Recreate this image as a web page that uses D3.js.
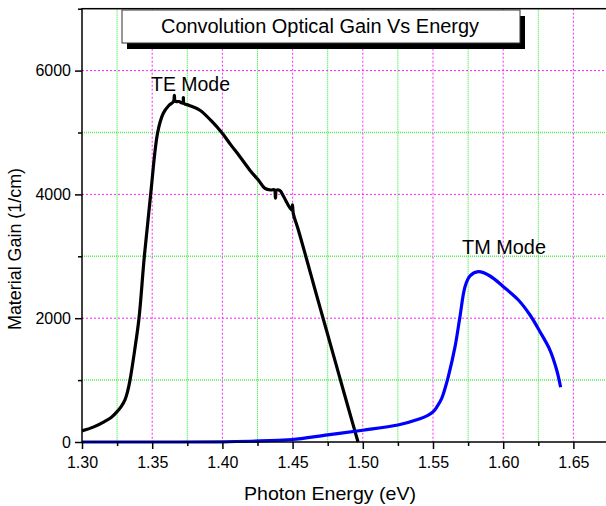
<!DOCTYPE html>
<html>
<head>
<meta charset="utf-8">
<script src="https://cdn.jsdelivr.net/npm/d3@7"></script>
<style>
  body { margin: 0; background: #fff; }
  svg { display: block; font-family: "Liberation Sans", Arial, sans-serif; }
</style>
</head>
<body>
<div id="chart"></div>
<script>
// photon energy (eV) vs material gain (1/cm)
const teEnergy = [1.300, 1.308, 1.316, 1.321, 1.325, 1.328, 1.3306, 1.3325, 1.3342, 1.3375, 1.3406, 1.3444, 1.3489, 1.3539, 1.3579, 1.3620, 1.3652, 1.3658, 1.3664, 1.3690, 1.3718, 1.3722, 1.3727, 1.3760, 1.3840, 1.3920, 1.3995, 1.4060, 1.4125, 1.4200, 1.4256, 1.4303, 1.4345, 1.4370, 1.4378, 1.4386, 1.4410, 1.4434, 1.4493, 1.4499, 1.4505, 1.4541, 1.4594, 1.4655, 1.4717, 1.4779, 1.4841, 1.4903, 1.4966];
const teGain   = [180, 240, 330, 400, 490, 575, 680, 820, 1000, 1480, 2000, 3000, 4000, 5000, 5310, 5440, 5500, 5600, 5505, 5500, 5475, 5565, 5470, 5440, 5360, 5190, 5000, 4800, 4609, 4380, 4233, 4098, 4071, 4075, 3940, 4070, 4060, 3974, 3748, 3830, 3690, 3425, 3000, 2500, 2000, 1500, 1000, 500, 0];

const tmEnergy = [1.300, 1.350, 1.400, 1.420, 1.440, 1.450, 1.475, 1.500, 1.525, 1.5407, 1.5460, 1.5502, 1.5530, 1.5562, 1.5585, 1.5609, 1.5657, 1.5692, 1.5728, 1.5764, 1.5823, 1.5906, 1.6001, 1.6108, 1.6191, 1.6262, 1.6333, 1.6381, 1.6409];
const tmGain   = [0, 0, 3, 12, 28, 40, 115, 190, 275, 375, 425, 490, 575, 705, 860, 1055, 1540, 2024, 2509, 2682, 2751, 2682, 2509, 2294, 2052, 1782, 1486, 1163, 884];

const xMajor = [1.30, 1.35, 1.40, 1.45, 1.50, 1.55, 1.60, 1.65];
const xMinor = [1.325, 1.375, 1.425, 1.475, 1.525, 1.575, 1.625, 1.675];
const yMajor = [0, 2000, 4000, 6000];
const yMinor = [1000, 3000, 5000, 7000];

const title = "Convolution Optical Gain Vs Energy";
const xTitle = "Photon Energy (eV)";
const yTitle = "Material Gain (1/cm)";

const width = 606, height = 506;
const svg = d3.select("#chart").append("svg")
  .attr("width", width)
  .attr("height", height);

const x = d3.scaleLinear().domain([1.30, 1.70]).range([82, 643.6]);
const y = d3.scaleLinear().domain([0, 7000]).range([442, 8.7]);

// grid: green at minor ticks, magenta at major ticks
const grid = svg.append("g").attr("class", "grid");
grid.selectAll(".gx-minor").data(xMinor).join("line")
  .attr("x1", d => x(d)).attr("x2", d => x(d))
  .attr("y1", y(7000)).attr("y2", y(0))
  .attr("stroke", "#22e822").attr("stroke-width", 1)
  .attr("stroke-dasharray", "1,1");
grid.selectAll(".gy-minor").data(yMinor.filter(d => d < 7000)).join("line")
  .attr("x1", x(1.30)).attr("x2", width)
  .attr("y1", d => y(d)).attr("y2", d => y(d))
  .attr("stroke", "#55ee55").attr("stroke-width", 1.5)
  .attr("stroke-dasharray", "1,1");
grid.selectAll(".gx-major").data(xMajor.slice(1)).join("line")
  .attr("x1", d => x(d)).attr("x2", d => x(d))
  .attr("y1", y(7000)).attr("y2", y(0))
  .attr("stroke", "#ff22ff").attr("stroke-width", 1)
  .attr("stroke-dasharray", "2,2");
grid.selectAll(".gy-major").data(yMajor.slice(1)).join("line")
  .attr("x1", x(1.30)).attr("x2", width)
  .attr("y1", d => y(d)).attr("y2", d => y(d))
  .attr("stroke", "#ff22ff").attr("stroke-width", 1)
  .attr("stroke-dasharray", "2,2");

// curves
const line = d3.line()
  .x(d => x(d[0]))
  .y(d => y(d[1]))
  .curve(d3.curveCatmullRom.alpha(0.5));

svg.append("path")
  .datum(teEnergy.map((e, i) => [e, teGain[i]]))
  .attr("fill", "none")
  .attr("stroke", "#000")
  .attr("stroke-width", 3.2)
  .attr("stroke-linejoin", "round")
  .attr("d", line);

svg.append("path")
  .datum(tmEnergy.map((e, i) => [e, tmGain[i]]))
  .attr("fill", "none")
  .attr("stroke", "#0000ff")
  .attr("stroke-width", 3.2)
  .attr("stroke-linejoin", "round")
  .attr("d", line);

// frame
svg.append("rect")
  .attr("x", x(1.30)).attr("y", y(7000))
  .attr("width", x(1.70) - x(1.30)).attr("height", y(0) - y(7000))
  .attr("fill", "none").attr("stroke", "#000").attr("stroke-width", 1.5);

// axes
const axisStyle = g => {
  g.select(".domain").remove();
  g.selectAll(".tick line").attr("stroke", "#000").attr("stroke-width", 1.5);
  g.selectAll("text").attr("fill", "#000").attr("font-size", 16)
    .attr("font-family", "'Liberation Sans', Arial, sans-serif");
};

svg.append("g")
  .attr("transform", `translate(0,${y(0)})`)
  .call(d3.axisBottom(x).tickValues(xMajor).tickFormat(d3.format(".2f")).tickSize(7).tickPadding(8))
  .call(axisStyle);
svg.append("g")
  .attr("transform", `translate(0,${y(0)})`)
  .call(d3.axisBottom(x).tickValues(xMinor).tickFormat("").tickSize(4))
  .call(axisStyle);

svg.append("g")
  .attr("transform", `translate(${x(1.30)},0)`)
  .call(d3.axisLeft(y).tickValues(yMajor).tickFormat(d3.format("d")).tickSize(7).tickPadding(4))
  .call(axisStyle);
svg.append("g")
  .attr("transform", `translate(${x(1.30)},0)`)
  .call(d3.axisLeft(y).tickValues(yMinor).tickFormat("").tickSize(4))
  .call(axisStyle);

// axis titles
svg.append("text")
  .attr("x", 330).attr("y", 500)
  .attr("text-anchor", "middle")
  .attr("font-size", 19)
  .attr("textLength", 172).attr("lengthAdjust", "spacingAndGlyphs")
  .text(xTitle);

svg.append("text")
  .attr("transform", "translate(21,249) rotate(-90)")
  .attr("text-anchor", "middle")
  .attr("font-size", 19)
  .attr("textLength", 162).attr("lengthAdjust", "spacingAndGlyphs")
  .text(yTitle);

// curve labels
svg.append("text")
  .attr("x", 151).attr("y", 91)
  .attr("font-size", 20)
  .attr("textLength", 79).attr("lengthAdjust", "spacingAndGlyphs")
  .text("TE Mode");
svg.append("text")
  .attr("x", 462).attr("y", 254)
  .attr("font-size", 20)
  .attr("textLength", 84).attr("lengthAdjust", "spacingAndGlyphs")
  .text("TM Mode");

// title box with shadow
svg.append("rect")
  .attr("x", 127).attr("y", 16).attr("width", 398).attr("height", 33)
  .attr("fill", "#000");
svg.append("rect")
  .attr("x", 122).attr("y", 10).attr("width", 398).attr("height", 33)
  .attr("fill", "#fff").attr("stroke", "#333").attr("stroke-width", 1);
svg.append("text")
  .attr("x", 320).attr("y", 33)
  .attr("text-anchor", "middle")
  .attr("font-size", 20)
  .attr("textLength", 318).attr("lengthAdjust", "spacingAndGlyphs")
  .text(title);
</script>
</body>
</html>
